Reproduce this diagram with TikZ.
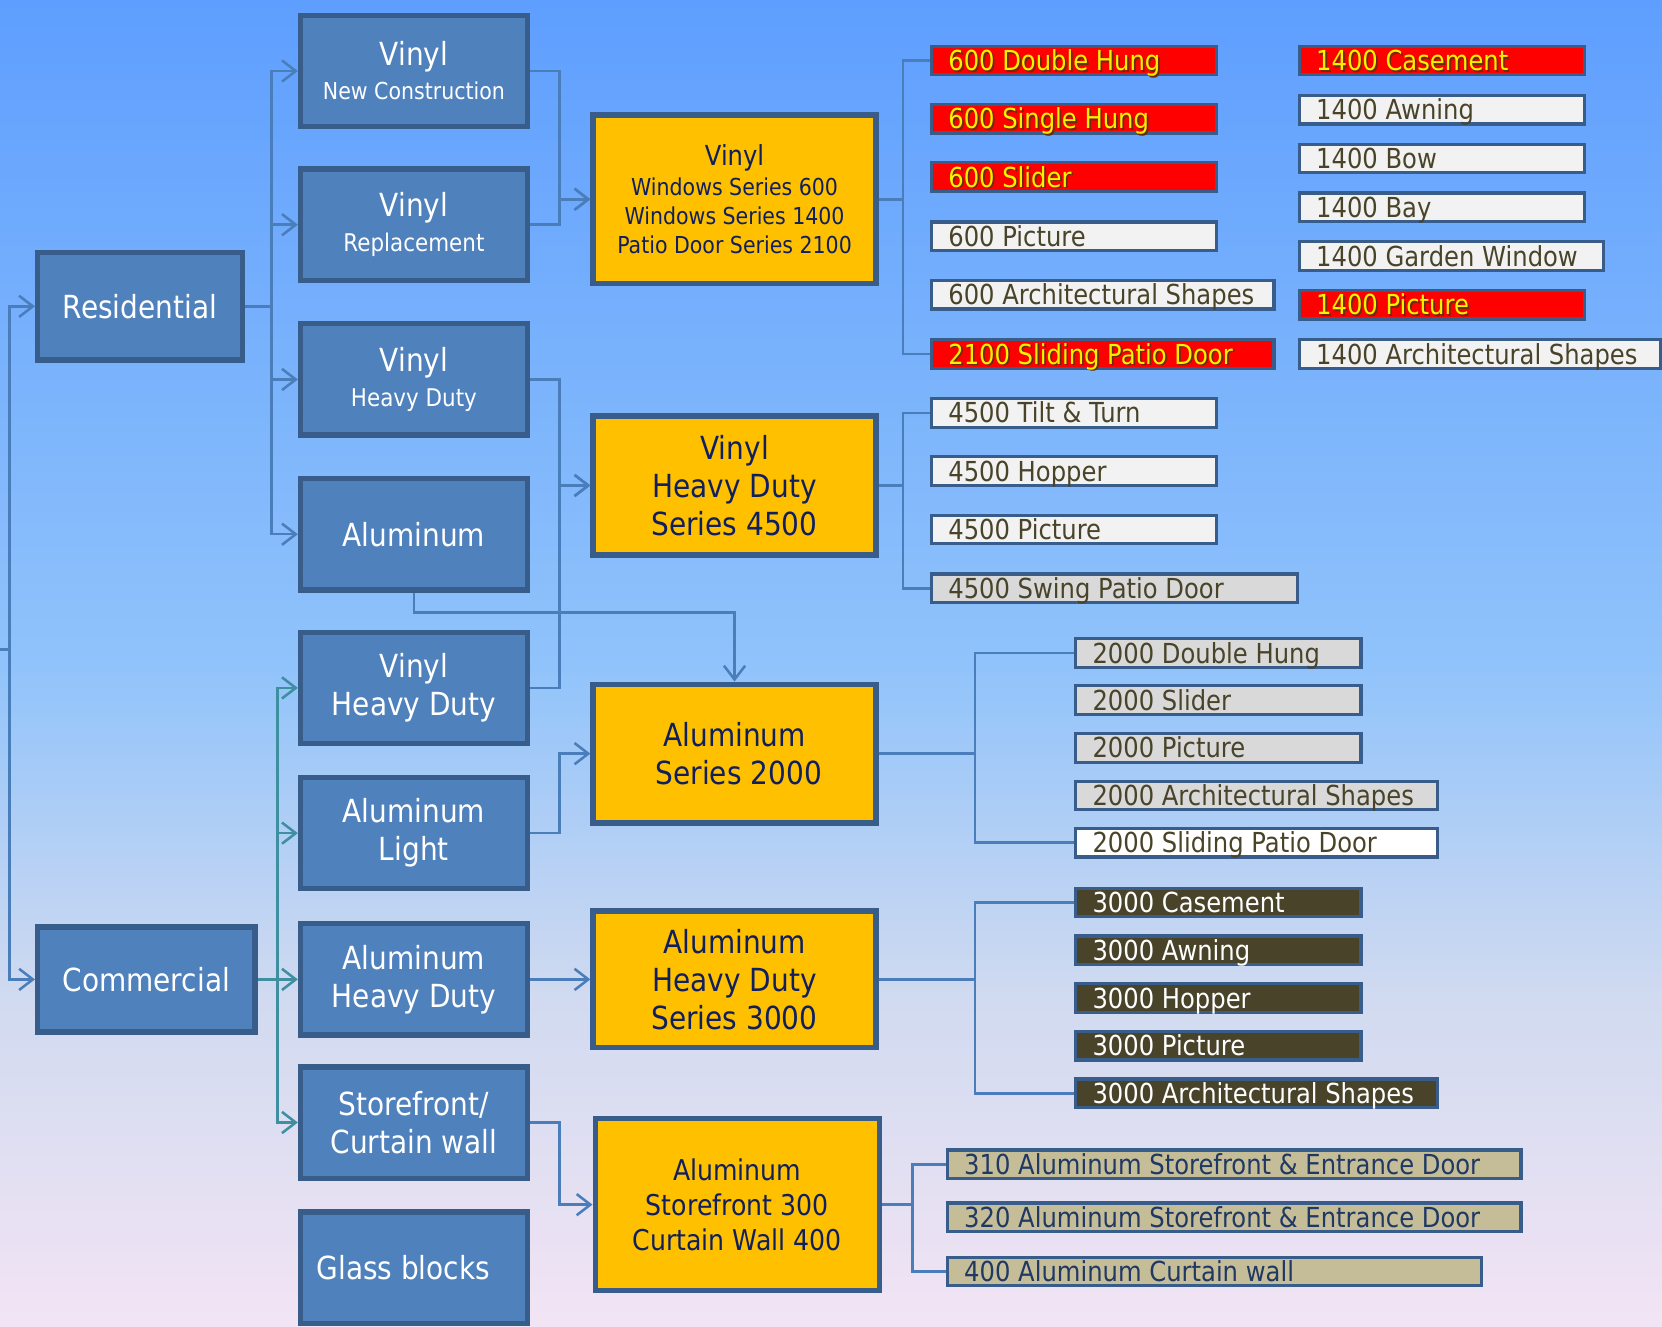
\documentclass[tikz,border=0pt]{standalone}
\usepackage{fontspec}
\setmainfont{DejaVu Sans}[FakeStretch=0.88]
\usetikzlibrary{arrows.meta}
\definecolor{boxblue}{HTML}{4F81BD}
\definecolor{boxedge}{HTML}{385D8A}
\definecolor{boxyel}{HTML}{FFC000}
\definecolor{navytext}{HTML}{0F1F5F}
\definecolor{conncol}{HTML}{4A7EBB}
\definecolor{tealcol}{HTML}{3E8FA0}
\definecolor{leafred}{HTML}{FF0000}
\definecolor{leaflight}{HTML}{F2F2F2}
\definecolor{leafgray}{HTML}{D9D9D9}
\definecolor{leafdark}{HTML}{494429}
\definecolor{leaftan}{HTML}{C4BD97}
\definecolor{oliv}{HTML}{494429}
\definecolor{tannavy}{HTML}{1F3864}
\definecolor{shadowc}{HTML}{6B2A00}
\definecolor{bgtop}{HTML}{5E9EFE}
\definecolor{bgmid}{HTML}{90C3FB}
\definecolor{bglow}{HTML}{D0DAF0}
\definecolor{bgbot}{HTML}{F2E4F4}
\pgfdeclareverticalshading{bgshade}{100bp}{color(0bp)=(bgbot); color(25bp)=(bgbot); color(37.5bp)=(bglow); color(50bp)=(bgmid); color(75bp)=(bgtop); color(100bp)=(bgtop)}
\newcommand\shd[1]{\makebox[0pt][l]{\color{shadowc}\hspace{1.6pt}\raisebox{-1.6pt}{#1}}#1}
\newcommand\leafbox[7]{%
  \node[leafbase,#5,minimum width=#4pt,
        label={[leaftext,#6]west:{#7}}] (#1) at (#2,#3) {};}
\tikzset{
  bigfont/.style={font=\fontsize{30}{36}\selectfont},
  bluebox/.style={draw=boxedge, fill=boxblue, line width=5pt, text=white,
    align=center, bigfont, minimum width=214pt, minimum height=105pt, inner sep=0pt},
  yelbox/.style={draw=boxedge, fill=boxyel, line width=5pt, text=navytext,
    align=center, bigfont, minimum width=267pt, inner sep=0pt},
  leafbase/.style={draw=boxedge, line width=3pt, minimum height=27pt,
    inner sep=0pt, anchor=west},
  leaftext/.style={anchor=west, xshift=17pt, inner sep=0pt, label distance=0pt,
    font=\fontsize{26}{30}\selectfont, text height=19pt, text depth=0pt},
  redf/.style={fill=leafred}, lightf/.style={fill=leaflight},
  grayf/.style={fill=leafgray}, whitef/.style={fill=white},
  darkf/.style={fill=leafdark}, tanf/.style={fill=leaftan},
  redt/.style={text=yellow}, olivt/.style={text=oliv},
  whitet/.style={text=white}, navyt/.style={text=tannavy},
  conn/.style={draw=conncol, line width=2.4pt},
  tconn/.style={draw=tealcol, line width=2.4pt},
  arr/.style={-{Straight Barb[length=13pt,width=20pt]}},
}
\begin{document}
\begin{tikzpicture}[x=1pt,y=-1pt]
\useasboundingbox (0,0) rectangle (1568,1251);
\fill[shading=bgshade] (0,0) rectangle (1568,1251);

% first level
\node[bluebox, minimum width=193pt, minimum height=101pt] (res) at (132,289) {Residential};
\node[bluebox, minimum width=205pt, minimum height=99pt] (com) at (138,924) {Commercial};

% second level
\node[bluebox] (vnc) at (390.5,67) {Vinyl\\[-4pt]{\fontsize{22}{26}\selectfont New Construction}};
\node[bluebox] (vrep) at (390.5,212) {Vinyl\\[-3pt]{\fontsize{23}{27}\selectfont Replacement}};
\node[bluebox] (vhd) at (390.5,358) {Vinyl\\[-3pt]{\fontsize{23}{27}\selectfont Heavy Duty}};
\node[bluebox] (alu) at (390.5,504) {Aluminum};
\node[bluebox] (vhd2) at (390.5,649) {Vinyl\\Heavy Duty};
\node[bluebox] (alight) at (390.5,786) {Aluminum\\Light};
\node[bluebox] (ahd) at (390.5,924) {Aluminum\\Heavy Duty};
\node[bluebox] (store) at (390.5,1059) {Storefront/\\Curtain wall};
\node[bluebox] (glass) at (390.5,1196) {\hspace*{-20pt}Glass blocks};

% series boxes
\node[yelbox, minimum height=159pt, font=\fontsize{22}{27.5}\selectfont] (y1) at (693,188)
  {{\fontsize{26}{29}\selectfont Vinyl}\\[1pt]Windows Series 600\\Windows Series 1400\\Patio Door Series 2100};
\node[yelbox, minimum height=131pt] (y2) at (693,458) {Vinyl\\Heavy Duty\\Series 4500};
\node[yelbox, minimum height=131pt] (y3) at (693,711) {Aluminum\\\hspace*{8pt}Series 2000};
\node[yelbox, minimum height=129pt] (y4) at (693,924) {Aluminum\\Heavy Duty\\Series 3000};
\node[yelbox, minimum width=268pt, minimum height=162pt, font=\fontsize{27}{33}\selectfont] (y5) at (695.5,1136.5) {Aluminum\\Storefront 300\\Curtain Wall 400};

% leaves: series 600 / 2100
\leafbox{a1}{877.5}{57}{269}{redf}{redt}{\shd{600 Double Hung}}
\leafbox{a2}{877.5}{112}{269}{redf}{redt}{\shd{600 Single Hung}}
\leafbox{a3}{877.5}{167}{269}{redf}{redt}{\shd{600 Slider}}
\leafbox{a4}{877.5}{223}{269}{lightf}{olivt}{600 Picture}
\leafbox{a5}{877.5}{278}{323}{lightf}{olivt}{600 Architectural Shapes}
\leafbox{a6}{877.5}{334}{323}{redf}{redt}{\shd{2100 Sliding Patio Door}}
% series 1400
\leafbox{b1}{1224.5}{57}{269}{redf}{redt}{\shd{1400 Casement}}
\leafbox{b2}{1224.5}{103.5}{269}{lightf}{olivt}{1400 Awning}
\leafbox{b3}{1224.5}{149.5}{269}{lightf}{olivt}{1400 Bow}
\leafbox{b4}{1224.5}{195.5}{269}{lightf}{olivt}{1400 Bay}
\leafbox{b5}{1224.5}{241.5}{287}{lightf}{olivt}{1400 Garden Window}
\leafbox{b6}{1224.5}{287.5}{269}{redf}{redt}{\shd{1400 Picture}}
\leafbox{b7}{1224.5}{334}{341}{lightf}{olivt}{1400 Architectural Shapes}
% series 4500
\leafbox{c1}{877.5}{389.5}{269}{lightf}{olivt}{4500 Tilt \& Turn}
\leafbox{c2}{877.5}{444.5}{269}{lightf}{olivt}{4500 Hopper}
\leafbox{c3}{877.5}{499.5}{269}{lightf}{olivt}{4500 Picture}
\leafbox{c4}{877.5}{555}{345}{grayf}{olivt}{4500 Swing Patio Door}
% series 2000
\leafbox{d1}{1013.5}{616}{269}{grayf}{olivt}{2000 Double Hung}
\leafbox{d2}{1013.5}{660.5}{269}{grayf}{olivt}{2000 Slider}
\leafbox{d3}{1013.5}{705.5}{269}{grayf}{olivt}{2000 Picture}
\leafbox{d4}{1013.5}{750.5}{341}{grayf}{olivt}{2000 Architectural Shapes}
\leafbox{d5}{1013.5}{795}{341}{whitef}{olivt}{2000 Sliding Patio Door}
% series 3000
\leafbox{e1}{1013.5}{851.5}{269}{darkf}{whitet}{3000 Casement}
\leafbox{e2}{1013.5}{896.5}{269}{darkf}{whitet}{3000 Awning}
\leafbox{e3}{1013.5}{941.5}{269}{darkf}{whitet}{3000 Hopper}
\leafbox{e4}{1013.5}{986.5}{269}{darkf}{whitet}{3000 Picture}
\leafbox{e5}{1013.5}{1031.5}{341}{darkf}{whitet}{3000 Architectural Shapes}
% series 300/400
\leafbox{f1}{892.5}{1098.5}{541}{tanf}{navyt}{310 Aluminum Storefront \& Entrance Door}
\leafbox{f2}{892.5}{1148.5}{541}{tanf}{navyt}{320 Aluminum Storefront \& Entrance Door}
\leafbox{f3}{892.5}{1199.5}{504}{tanf}{navyt}{400 Aluminum Curtain wall}

% root connectors
\coordinate (rootin) at (0,613);
\coordinate (j0) at (9,613);
\draw[conn] (rootin) -- (j0);
\draw[conn,arr] (j0) |- (res.west);
\draw[conn,arr] (j0) |- (com.west);

% residential
\coordinate (j1) at (256,289);
\draw[conn] (res.east) -- (j1);
\draw[conn,arr] (j1) |- (vnc.west);
\draw[conn,arr] (j1) |- (vrep.west);
\draw[conn,arr] (j1) |- (vhd.west);
\draw[conn,arr] (j1) |- (alu.west);

% commercial
\coordinate (j2) at (262,924);
\draw[tconn] (com.east) -- (j2);
\draw[tconn,arr] (j2) |- (vhd2.west);
\draw[tconn,arr] (j2) |- (alight.west);
\draw[tconn,arr] (j2) -- (ahd.west);
\draw[tconn,arr] (j2) |- (store.west);

% to series
\draw[conn,arr] (vnc.east) -- ++(28,0) |- (y1.west);
\draw[conn,arr] (vrep.east) -- ++(28,0) |- (y1.west);
\draw[conn,arr] (vhd.east) -- ++(28,0) |- (y2.west);
\draw[conn,arr] (vhd2.east) -- ++(28,0) |- (y2.west);
\draw[conn,arr] (alu.south) -- ++(0,19) -| (y3.north);
\draw[conn,arr] (alight.east) -- ++(28,0) |- (y3.west);
\draw[conn,arr] (ahd.east) -- (y4.west);
\draw[conn,arr] (store.east) -- ++(28,0) |- (y5.west);

% brackets to leaves
\draw[conn] (y1.east) -- ++(23,0) coordinate (k1);
\draw[conn] (a1.west) -| (k1) |- (a6.west);
\draw[conn] (y2.east) -- ++(23,0) coordinate (k2);
\draw[conn] (c1.west) -| (k2) |- (c4.west);
\draw[conn] (y3.east) -- ++(91,0) coordinate (k3);
\draw[conn] (d1.west) -| (k3) |- (d5.west);
\draw[conn] (y4.east) -- ++(91,0) coordinate (k4);
\draw[conn] (e1.west) -| (k4) |- (e5.west);
\draw[conn] (y5.east) -- ++(29,0) coordinate (k5);
\draw[conn] (f1.west) -| (k5) |- (f3.west);
\end{tikzpicture}
\end{document}
